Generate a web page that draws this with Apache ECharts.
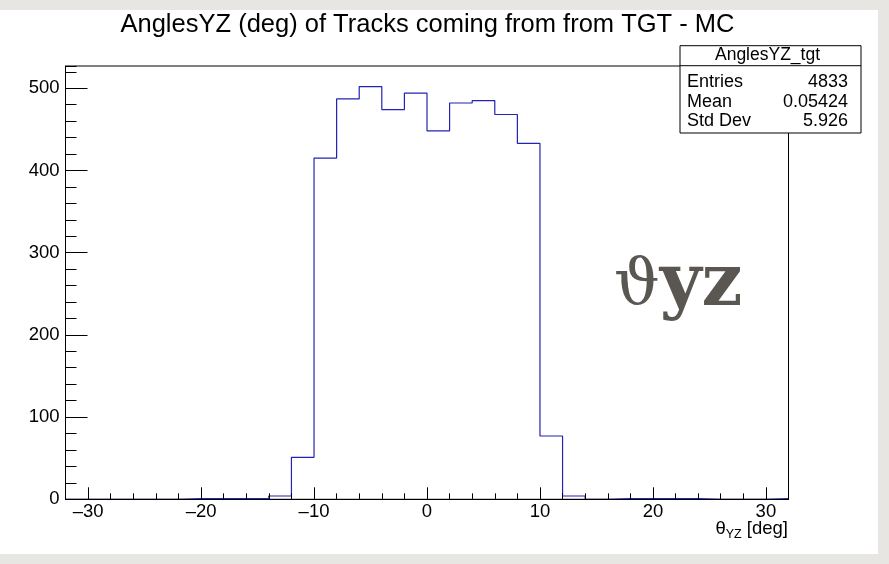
<!DOCTYPE html>
<html><head><meta charset="utf-8">
<script src="https://cdn.jsdelivr.net/npm/echarts@6/dist/echarts.min.js"></script>
<style>html,body{margin:0;padding:0;background:#e8e6e3;} #c{width:889px;height:564px;}</style>
</head><body><div id="c"></div>
<script>
// ---- data ----
const chartTitle = 'AnglesYZ (deg) of Tracks coming from from TGT - MC';
const binLeftEdges = [-32,-30,-28,-26,-24,-22,-20,-18,-16,-14,-12,-10,-8,-6,-4,-2,0,2,4,6,8,10,12,14,16,18,20,22,24,26,28,30];
const histUpperEdge = 32;
const counts = [0,0,0,0,0,1,1,1,1,4,51,415,487,502,474,494,448,482,485,468,433,77,4,0,1,1,1,1,0,0,0,1];
const xMajorTicks = [-30,-20,-10,0,10,20,30];
const yMajorTicks = [0,100,200,300,400,500];
const statsName = 'AnglesYZ_tgt';
const statsLabels = ['Entries','Mean','Std Dev'];
const statsValues = ['4833','0.05424','5.926'];

// ---- build ----
const histData = binLeftEdges.map((x, i) => [x, counts[i]]);
histData.push([histUpperEdge, counts[counts.length - 1]]);

const FONT = '"Liberation Sans", Arial, Helvetica, sans-serif';
const chart = echarts.init(document.getElementById('c'), null, {renderer: 'canvas'});

const G = {left: 65.5, right: 100.5, top: 66, bottom: 64.7};
const boxX = 680, boxY = 45.7, boxW = 181, boxH = 87.3, headH = 20;

const statsEls = [
  {type:'rect', shape:{x:boxX, y:boxY, width:boxW, height:boxH}, style:{fill:'#fff', stroke:'#000', lineWidth:1}, z:100},
  {type:'line', shape:{x1:boxX, y1:boxY+headH, x2:boxX+boxW, y2:boxY+headH}, style:{stroke:'#000', lineWidth:1}, z:101},
  {type:'text', x: boxX + boxW/2 - 3, y: boxY + 9, style:{text: statsName, fontSize:17.5, fontFamily:FONT, fill:'#000', align:'center', verticalAlign:'middle'}, z:102}
];
statsLabels.forEach((lab, i) => {
  const yy = 82 + i * 19.7;
  statsEls.push({type:'text', x: 687, y: yy, style:{text: lab, fontSize:18, fontFamily:FONT, fill:'#000', align:'left', verticalAlign:'middle'}, z:101});
  statsEls.push({type:'text', x: 848, y: yy, style:{text: statsValues[i], fontSize:18, fontFamily:FONT, fill:'#000', align:'right', verticalAlign:'middle'}, z:101});
});

const option = {
  backgroundColor: '#e8e6e3',
  animation: false,
  grid: Object.assign({show:true, borderColor:'#000', borderWidth:1, backgroundColor:'#fff', z:1}, G),
  xAxis: [
    {type:'value', min:-32, max:32, position:'bottom', z:5,
     axisLine:{show:true, onZero:false, lineStyle:{color:'#000', width:1}},
     axisTick:{show:true, inside:true, length:12, customValues:xMajorTicks, lineStyle:{color:'#000', width:1}},
     axisLabel:{show:true, customValues:xMajorTicks, fontSize:18.5, fontFamily:FONT, color:'#000', margin:3,
       formatter: v => String(v).replace('-', '\u2013')},
     splitLine:{show:false}},
    {type:'value', min:-32, max:32, interval:2, position:'bottom', z:5,
     axisLine:{show:false, onZero:false},
     axisTick:{show:true, inside:true, length:6, lineStyle:{color:'#000', width:1}},
     axisLabel:{show:false}, splitLine:{show:false}}
  ],
  yAxis: [
    {type:'value', min:0, max:527, position:'left', z:5,
     axisLine:{show:true, onZero:false, lineStyle:{color:'#000', width:1}},
     axisTick:{show:true, inside:true, length:22, customValues:yMajorTicks, lineStyle:{color:'#000', width:1}},
     axisLabel:{show:true, customValues:yMajorTicks, fontSize:18.5, fontFamily:FONT, color:'#000', margin:6},
     splitLine:{show:false}},
    {type:'value', min:0, max:527, interval:20, position:'left', z:5,
     axisLine:{show:false, onZero:false},
     axisTick:{show:true, inside:true, length:11, lineStyle:{color:'#000', width:1}},
     axisLabel:{show:false}, splitLine:{show:false}}
  ],
  series: [{
    type:'line', xAxisIndex:0, yAxisIndex:0, step:'end', data: histData, z:3,
    symbol:'none', lineStyle:{color:'#2323b5', width:1.2}, silent:true
  }],
  graphic: [
    {type:'rect', shape:{x:0, y:10, width:878, height:544}, style:{fill:'#ffffff'}, z:-100},
    {type:'text', x:427.5, y:25, style:{text: chartTitle, fontSize:25.5, fontFamily:FONT, fill:'#000', align:'center', verticalAlign:'middle'}, z:10},
    {type:'text', x:788, y:530, style:{
      text:'{t|\u03b8}{s|YZ}{t| [deg]}', align:'right', verticalAlign:'middle',
      rich:{t:{fontSize:18.5, fontFamily:FONT, fill:'#000', verticalAlign:'top'}, s:{fontSize:12.5, fontFamily:FONT, fill:'#000', padding:[9,0,0,0], verticalAlign:'top'}}}, z:10},
    {type:'text', x:614, y:286, style:{
      text:'{a|\u03d1}{b|yz}', align:'left', verticalAlign:'middle',
      rich:{a:{fontSize:64, fontFamily:'"DejaVu Serif", serif', fill:'#5a5652'}, b:{fontSize:72, fontWeight:'bold', fontFamily:'"DejaVu Serif", serif', fill:'#5a5652'}}}, z:10}
  ].concat(statsEls)
};
chart.setOption(option);
</script>
</body></html>
